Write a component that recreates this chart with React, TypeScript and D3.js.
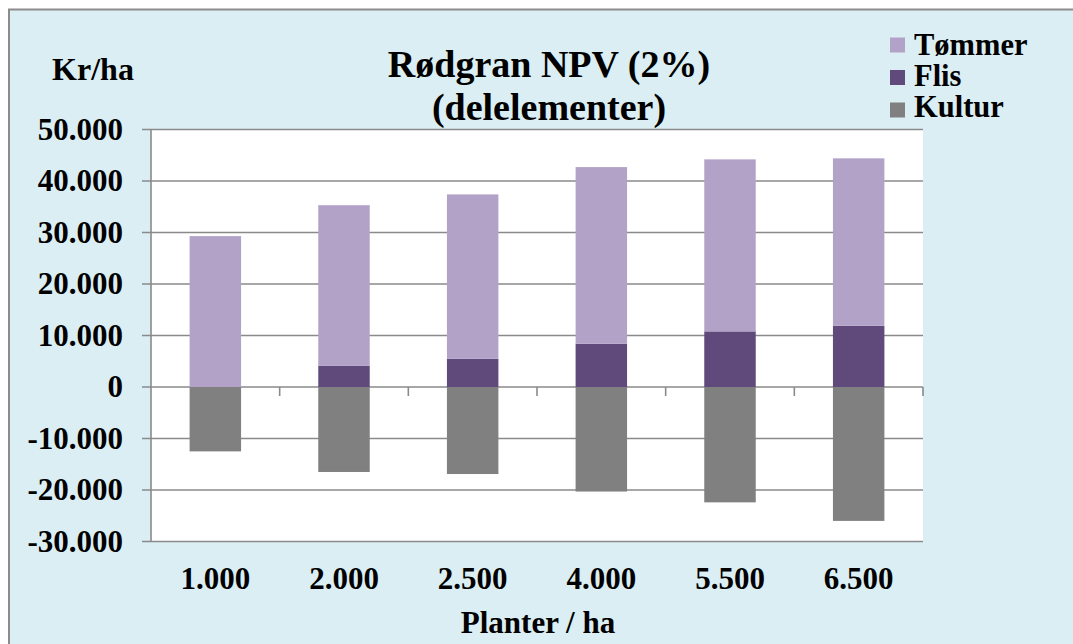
import React from "react";
import * as d3 from "d3";

const categories = ["1.000", "2.000", "2.500", "4.000", "5.500", "6.500"];
const flis = [0, 4100, 5500, 8400, 10800, 11900];
const tommer = [29300, 31200, 31900, 34300, 33400, 32500];
const kultur = [-12500, -16500, -16900, -20300, -22400, -26000];
const yTicks = [50000, 40000, 30000, 20000, 10000, 0, -10000, -20000, -30000];
const seriesNames = ["Tømmer", "Flis", "Kultur"];
const seriesColors = ["#B3A2C7", "#604A7B", "#808080"];

const fmt = (v: number) => {
  const s = d3.format(",")(Math.abs(v)).replace(/,/g, ".");
  return (v < 0 ? "-" : "") + s;
};

export default function App() {
  const W = 1073, H = 644;
  const left = 151, right = 923, top = 129.5, bottom = 541.5;
  const x = d3.scaleBand<string>().domain(categories).range([left, right]).paddingInner(0.6).paddingOuter(0.3);
  const y = d3.scaleLinear().domain([-30000, 50000]).range([bottom, top]);
  const step = x.step();
  const font = "'Liberation Serif', 'Times New Roman', serif";
  const grid = "#8A8A8A";

  return (
    <svg width={W} height={H} style={{ position: "absolute", left: 0, top: 0, fontFamily: font }}>
      <rect x={0} y={0} width={W} height={H} fill="#fff" />
      <rect x={9} y={9.5} width={W + 10} height={H + 10} fill="#DAEEF3" stroke="#8C8C8C" strokeWidth={2} />
      <rect x={left} y={top} width={right - left} height={bottom - top} fill="#fff" />
      {yTicks.map((t) => (
        <line key={"g" + t} x1={left - 9} x2={right} y1={y(t)} y2={y(t)} stroke={grid} strokeWidth={1.6} />
      ))}
      {categories.map((c, i) => (
        <line key={"t" + c} x1={left + step * (i + 1)} x2={left + step * (i + 1)} y1={y(0)} y2={y(0) + 9} stroke={grid} strokeWidth={1.6} />
      ))}
      <line x1={left} x2={left} y1={top} y2={bottom} stroke={grid} strokeWidth={1.6} />
      {categories.map((c, i) => {
        const bx = x(c)!;
        const bw = x.bandwidth();
        return (
          <g key={"b" + c}>
            {flis[i] > 0 && (
              <rect x={bx} width={bw} y={y(flis[i])} height={y(0) - y(flis[i])} fill={seriesColors[1]} />
            )}
            <rect x={bx} width={bw} y={y(flis[i] + tommer[i])} height={y(flis[i]) - y(flis[i] + tommer[i])} fill={seriesColors[0]} />
            <rect x={bx} width={bw} y={y(0)} height={y(kultur[i]) - y(0)} fill={seriesColors[2]} />
          </g>
        );
      })}
      {yTicks.map((t) => (
        <text key={"l" + t} x={123} y={y(t) + 10} textAnchor="end" fontSize={31} fontWeight="bold">
          {fmt(t)}
        </text>
      ))}
      {categories.map((c) => (
        <text key={"x" + c} x={x(c)! + x.bandwidth() / 2} y={589} textAnchor="middle" fontSize={31} fontWeight="bold">
          {c}
        </text>
      ))}
      <text x={538} y={633} textAnchor="middle" fontSize={31} fontWeight="bold">Planter / ha</text>
      <text x={93} y={80} textAnchor="middle" fontSize={32} fontWeight="bold">Kr/ha</text>
      <text x={549} y={77} textAnchor="middle" fontSize={38} fontWeight="bold">Rødgran NPV (2%)</text>
      <text x={549} y={120} textAnchor="middle" fontSize={38} fontWeight="bold">(delelementer)</text>
      {seriesNames.map((s, i) => (
        <g key={"lg" + s}>
          <rect x={890} y={37.5 + i * 32.5} width={15} height={15} fill={seriesColors[i]} />
          <text x={914} y={55 + i * 31} fontSize={30.5} fontWeight="bold">{s}</text>
        </g>
      ))}
    </svg>
  );
}
